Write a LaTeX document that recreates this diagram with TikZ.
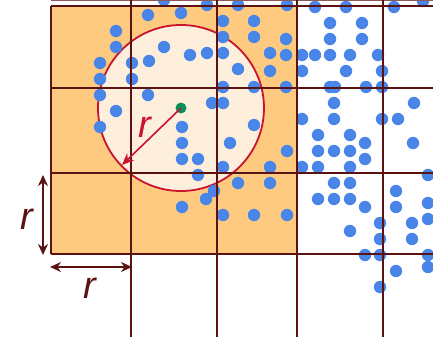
\documentclass[tikz,border=0pt]{standalone}
\usepackage{fontspec}
\setmainfont{Liberation Sans}
\usetikzlibrary{arrows.meta}
\definecolor{gridc}{HTML}{5A1212}
\definecolor{orangec}{HTML}{FDCA80}
\definecolor{circfill}{HTML}{FEEEDC}
\definecolor{circline}{HTML}{C8142E}
\definecolor{dotc}{HTML}{4A86E8}
\definecolor{greenc}{HTML}{0B8F5E}
\tikzset{
  gridline/.style={draw=gridc, line width=2pt},
  ptdot/.style={fill=dotc},
  rlabel/.style={font=\fontsize{38}{38}\selectfont\itshape, inner sep=0pt},
  dimarrow/.style={draw=gridc, line width=1.8pt, {Stealth[length=11pt,width=10pt]}-{Stealth[length=11pt,width=10pt]}},
}
\begin{document}
\begin{tikzpicture}[x=1pt,y=-1pt]
\useasboundingbox (0,0) rectangle (433,337);
\fill[white] (0,0) rectangle (433,337);
% orange region
\fill[orangec] (51,6) rectangle (297,254);
% circle
\coordinate (center) at (181,108);
\draw[circline, fill=circfill, line width=1.8pt] (center) circle[radius=83];
% dots
\foreach \p in {(164,0),(207,5),(238,5),(287,5),(315,7),(346,7),(394,7),(423,1),
(148,15),(181,13),
(223,21),(254,21),(330,23),(362,23),
(116,31),
(223,37),(254,37),(286,39),(330,39),(362,39),
(116,47),(164,47),
(190,55),(207,53),(223,53),(270,53),(286,55),(302,55),(315,55),(330,55),(350,55),(378,55),
(100,63),(132,63),(149,61),
(238,69),(270,71),(302,71),(346,71),(382,71),
(100,79),(132,79),
(223,87),(254,87),(286,87),(330,87),(335,87),(366,87),(382,87),
(100,95),(148,95),
(212,103),(223,103),(334,103),(414,103),
(116,111),
(302,119),(334,119),(382,119),(398,119),
(100,127),(182,127),(254,125),
(318,135),(350,135),
(182,143),(230,143),(365,143),(413,143),
(287,151),(318,151),(334,151),(350,151),
(182,159),(198,159),(365,159),
(223,167),(270,167),(302,167),(318,167),(350,167),
(198,175),(428,175),
(238,183),(270,183),(334,183),(350,183),
(214,191),(396,191),
(206,199),(318,199),(334,199),(350,199),(428,203),
(182,207),(365,207),(396,207),
(223,215),(254,215),(287,215),(428,219),
(380,223),(412,223),
(350,231),
(380,239),(412,239),
(365,255),(380,255),(428,255),
(428,267),(396,271),
(380,287)}
  \fill[ptdot] \p circle[radius=6.2];
% grid
\draw[draw=gridc!70, line width=0.5pt] (51,0.3) -- (433,0.3);
\draw[gridline] (51,6) -- (433,6);
\draw[gridline] (51,88) -- (433,88);
\draw[gridline] (51,173) -- (433,173);
\draw[gridline] (51,254) -- (433,254);
\draw[gridline] (51,6) -- (51,254);
\draw[gridline] (131,0) -- (131,337);
\draw[gridline] (217,0) -- (217,337);
\draw[gridline] (297,0) -- (297,337);
\draw[gridline] (383,0) -- (383,337);
% center and radius
\fill[greenc] (center) circle[radius=5.5];
\coordinate (rim) at (122,165);
\draw[circline, line width=1.6pt, -{Stealth[length=12pt,width=10pt]}] (center) -- (rim);
\node[rlabel, text=circline] (rtext) at (145,127) {r};
% dimension arrows
\coordinate (vtop) at (43,175);
\coordinate (vbot) at (43,255);
\coordinate (hl) at (50,267);
\coordinate (hr) at (132,267);
\draw[dimarrow] (vtop) -- (vbot);
\draw[dimarrow] (hl) -- (hr);
\node[rlabel, text=gridc] (rleft) at (27,219) {r};
\node[rlabel, text=gridc] (rbot) at (90,288) {r};
\end{tikzpicture}
\end{document}
